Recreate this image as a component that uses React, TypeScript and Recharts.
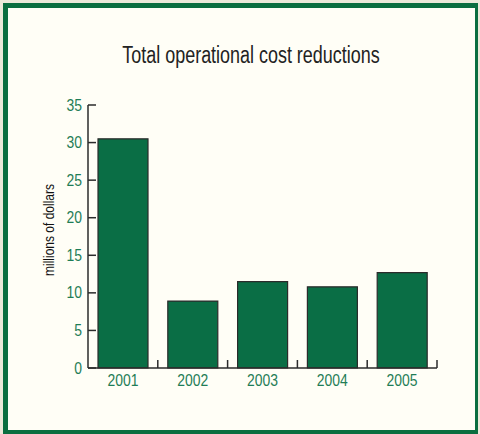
import { BarChart, Bar, XAxis, YAxis } from 'recharts'

const years = ['2001', '2002', '2003', '2004', '2005']
const reductions = [30.5, 8.9, 11.5, 10.8, 12.7]
const yTicks = [0, 5, 10, 15, 20, 25, 30, 35]

const data = years.map((year, i) => ({ year, value: reductions[i] }))

const W = 480
const H = 434
const MARGIN = { top: 105, right: 43, bottom: 36, left: 0 }
const Y_AXIS_W = 88
const HALF_BAND = (W - MARGIN.left - MARGIN.right - Y_AXIS_W) / years.length / 2

const FONT = "'Liberation Sans', Arial, sans-serif"
const NARROW = 0.8
const TICK_NARROW = 0.87
const GREEN_TEXT = '#1f7d56'
const BAR_FILL = '#0a6e45'
const AXIS = '#2b2b2b'

function YTick(props: any) {
  const { x, y, payload } = props
  return (
    <g>
      <text
        transform={`translate(${x - 6} ${y + 5.5}) scale(${TICK_NARROW} 1)`}
        textAnchor="end"
        fill={GREEN_TEXT}
        fontSize={16}
        fontFamily={FONT}
      >
        {payload.value}
      </text>
      <line x1={x} x2={x + 8} y1={y} y2={y} stroke={AXIS} strokeWidth={1.5} />
    </g>
  )
}

function XTick(props: any) {
  const { x, y, payload } = props
  return (
    <g>
      <text
        transform={`translate(${x} ${y + 18}) scale(${TICK_NARROW} 1)`}
        textAnchor="middle"
        fill={GREEN_TEXT}
        fontSize={16}
        fontFamily={FONT}
      >
        {payload.value}
      </text>
      <line x1={x + HALF_BAND} x2={x + HALF_BAND} y1={y} y2={y - 8} stroke={AXIS} strokeWidth={1.5} />
    </g>
  )
}

export default function App() {
  return (
    <div style={{ position: 'absolute', left: 0, top: 0, width: W, height: H, background: '#ece9da' }}>
      <div
        style={{
          position: 'absolute',
          left: 3,
          top: 3,
          width: 475,
          height: 431,
          boxSizing: 'border-box',
          background: '#fffef6',
          borderStyle: 'solid',
          borderColor: '#0b6e40',
          borderWidth: '5px 3px 4px 5px',
        }}
      />
      <div
        style={{
          position: 'absolute',
          left: 251,
          top: 44,
          transform: `translateX(-50%) scaleX(0.78)`,
          fontFamily: FONT,
          fontSize: 23,
          lineHeight: '23px',
          color: '#222',
          whiteSpace: 'nowrap',
        }}
      >
        Total operational cost reductions
      </div>
      <div
        style={{
          position: 'absolute',
          left: 48,
          top: 230,
          transform: `translate(-50%, -50%) rotate(-90deg) scaleX(${NARROW})`,
          fontFamily: FONT,
          fontSize: 15,
          lineHeight: '15px',
          color: '#111',
          whiteSpace: 'nowrap',
        }}
      >
        millions of dollars
      </div>
      <div style={{ position: 'absolute', left: 0, top: 0 }}>
        <BarChart width={W} height={H} data={data} margin={MARGIN} barCategoryGap={10}>
          <XAxis
            dataKey="year"
            height={30}
            tickLine={false}
            tickSize={0}
            tickMargin={0}
            axisLine={{ stroke: AXIS, strokeWidth: 1.5 }}
            tick={<XTick />}
            interval={0}
          />
          <YAxis
            width={Y_AXIS_W}
            domain={[0, 35]}
            ticks={yTicks}
            tickLine={false}
            tickSize={0}
            tickMargin={0}
            axisLine={{ stroke: AXIS, strokeWidth: 1.5 }}
            tick={<YTick />}
            interval={0}
          />
          <Bar dataKey="value" fill={BAR_FILL} stroke={AXIS} strokeWidth={1.2} isAnimationActive={false} />
        </BarChart>
      </div>
    </div>
  )
}
